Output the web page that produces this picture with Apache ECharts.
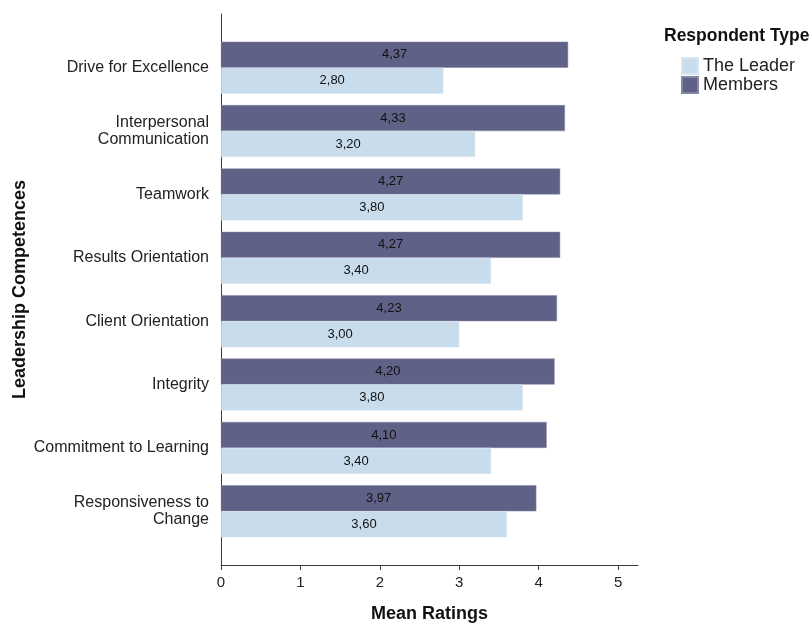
<!DOCTYPE html>
<html>
<head>
<meta charset="utf-8">
<script src="https://cdn.jsdelivr.net/npm/echarts@6/dist/echarts.min.js"></script>
<style>
  html, body { margin: 0; padding: 0; background: #fff; }
  #chart { width: 812px; height: 623px; }
</style>
</head>
<body>
<div id="chart"></div>
<script>
// Leadership competences, top to bottom
const competences = [
  'Drive for Excellence',
  'Interpersonal\nCommunication',
  'Teamwork',
  'Results Orientation',
  'Client Orientation',
  'Integrity',
  'Commitment to Learning',
  'Responsiveness to\nChange'
];
// Mean ratings per respondent type
const membersMeans = [4.37, 4.33, 4.27, 4.27, 4.23, 4.20, 4.10, 3.97];
const leaderMeans = [2.80, 3.20, 3.80, 3.40, 3.00, 3.80, 3.40, 3.60];
// Value axis ticks
const ratingTicks = [0, 1, 2, 3, 4, 5];

const FONT = '"Liberation Sans", Arial, sans-serif';
const AXIS_COLOR = '#3c3c3c';
const fmt = v => v.toFixed(2).replace('.', ',');

const chart = echarts.init(document.getElementById('chart'), null, { renderer: 'canvas' });

chart.setOption({
  animation: false,
  textStyle: { fontFamily: FONT },
  title: {
    text: 'Respondent Type',
    left: 664, top: 27, padding: 0,
    textStyle: { fontFamily: FONT, fontSize: 17.5, fontWeight: 'bold', color: '#111' }
  },
  legend: {
    orient: 'vertical',
    left: 681, top: 57, padding: 0,
    itemWidth: 16, itemHeight: 16, itemGap: 1,
    icon: 'rect',
    data: ['The Leader', 'Members'],
    textStyle: { fontFamily: FONT, fontSize: 18, color: '#222' }
  },
  grid: [
    // bars
    { left: 221, right: 174, top: 36, bottom: 80, containLabel: false, outerBoundsMode: 'none' },
    // axis frame
    { left: 221, right: 174, top: 14, bottom: 58, containLabel: false, outerBoundsMode: 'none' }
  ],
  xAxis: [
    {
      gridIndex: 0, type: 'value', min: 0, max: 5.25,
      show: false, splitLine: { show: false }
    },
    {
      gridIndex: 1, type: 'value', min: 0, max: 5.25,
      name: 'Mean Ratings', nameLocation: 'middle', nameGap: 40,
      nameTextStyle: { fontFamily: FONT, fontSize: 18, fontWeight: 'bold', color: '#111' },
      axisLine: { show: true, lineStyle: { color: AXIS_COLOR, width: 1 } },
      axisTick: { show: true, length: 5, customValues: ratingTicks, lineStyle: { color: AXIS_COLOR } },
      axisLabel: {
        customValues: ratingTicks, margin: 10,
        fontFamily: FONT, fontSize: 15, color: '#222'
      },
      splitLine: { show: false }
    }
  ],
  yAxis: [
    {
      gridIndex: 0, type: 'category', data: competences, inverse: true,
      axisLine: { show: false }, axisTick: { show: false },
      axisLabel: {
        margin: 12, fontFamily: FONT, fontSize: 16, color: '#222',
        lineHeight: 17, align: 'right', padding: [4, 0, 0, 0]
      }
    },
    {
      gridIndex: 1, type: 'value', min: 0, max: 1,
      name: 'Leadership Competences', nameLocation: 'middle', nameGap: 192,
      nameRotate: 90,
      nameTextStyle: { fontFamily: FONT, fontSize: 18, fontWeight: 'bold', color: '#111' },
      axisLine: { show: true, lineStyle: { color: AXIS_COLOR, width: 1 } },
      axisTick: { show: false }, axisLabel: { show: false },
      splitLine: { show: false }
    }
  ],
  series: [
    {
      name: 'Members', type: 'bar', xAxisIndex: 0, yAxisIndex: 0,
      data: membersMeans, barWidth: 26, barGap: '0%',
      itemStyle: { color: '#5f6186', borderColor: '#8486a6', borderWidth: 0.5 },
      label: {
        show: true, position: 'inside', formatter: p => fmt(p.value),
        fontFamily: FONT, fontSize: 13, color: '#111'
      }
    },
    {
      name: 'The Leader', type: 'bar', xAxisIndex: 0, yAxisIndex: 0,
      data: leaderMeans, barWidth: 26, barGap: '0%',
      itemStyle: { color: '#c8dcec', borderColor: '#d8e6f2', borderWidth: 0.5 },
      label: {
        show: true, position: 'inside', formatter: p => fmt(p.value),
        fontFamily: FONT, fontSize: 13, color: '#111'
      }
    }
  ]
});
</script>
</body>
</html>
